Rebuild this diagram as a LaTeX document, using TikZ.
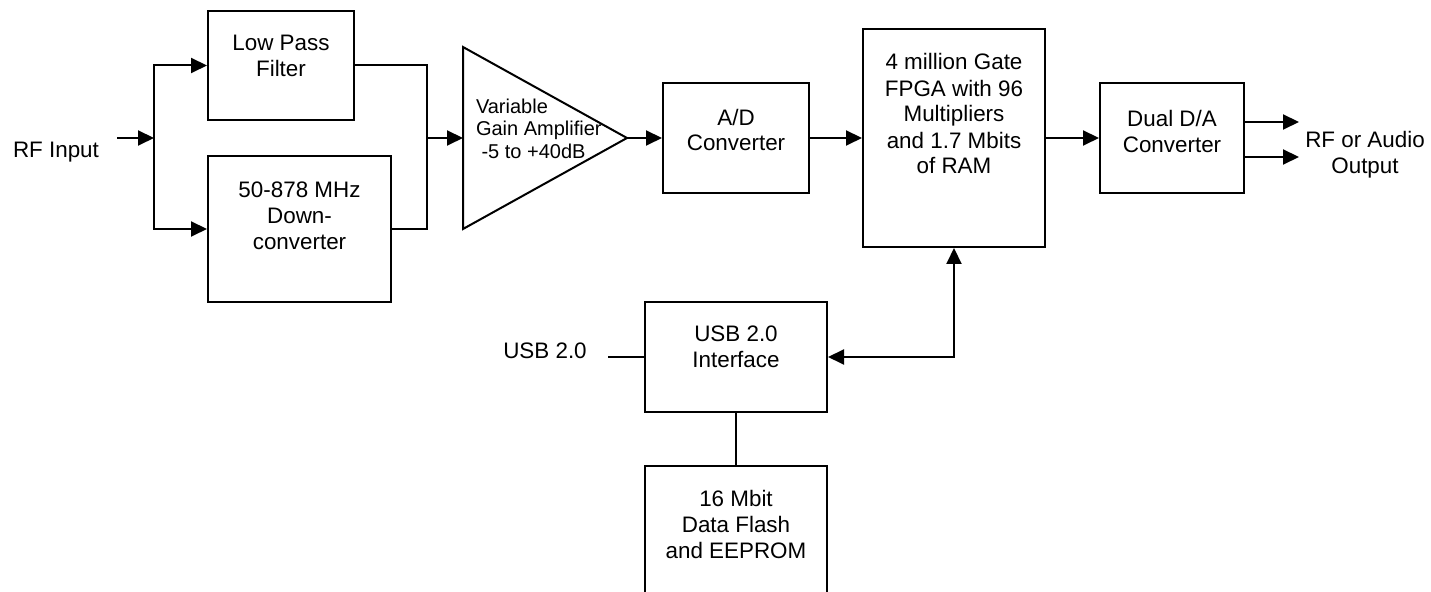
\documentclass[tikz,border=0pt]{standalone}
\usepackage{fontspec}
\setmainfont{Liberation Sans}
\usetikzlibrary{arrows.meta}

\begin{document}
\begin{tikzpicture}[x=0.5pt,y=-0.5pt,line width=1pt,
    blk/.style={shape=rectangle,draw,inner sep=0pt},
    txt/.style={align=center,inner sep=0pt,font=\fontsize{11.2}{13}\selectfont},
    arr/.style={-{Triangle[length=8pt,width=7.5pt]}},
    biarr/.style={{Triangle[length=8pt,width=7.5pt]}-{Triangle[length=8pt,width=7.5pt]}}]
    \useasboundingbox (0,0) rectangle (1431,592);
    \clip (0,0) rectangle (1431,592);
    \node[blk,minimum width=73pt,minimum height=54.5pt] (lpf) at (281,65.5) {};
    \node[blk,minimum width=91.5pt,minimum height=73pt] (dc) at (299.5,229) {};
    \node[blk,minimum width=73pt,minimum height=55pt] (ad) at (736,138) {};
    \node[blk,minimum width=91pt,minimum height=109pt] (fpga) at (954,138) {};
    \node[blk,minimum width=72pt,minimum height=55pt] (dac) at (1172,138) {};
    \node[blk,minimum width=91pt,minimum height=55pt] (usb) at (736,357) {};
    \node[blk,minimum width=91pt,minimum height=67pt] (flash) at (736,533) {};
    \coordinate (ampin) at (463,138);
    \coordinate (ampout) at (627,138);
    \draw (463,47) -- (ampout) -- (463,229) -- cycle;
    \node[txt] (lpftxt) at (281,56) {Low Pass\\Filter};
    \node[txt] (dctxt) at (299.5,216) {50-878 MHz\\Down-\\converter};
    \node[txt,align=left,anchor=west,font=\fontsize{10}{11.25}\selectfont] (amptxt) at (475,128.5) {Variable\\Gain Amplifier\\\ -5 to +40dB};
    \node[txt] (adtxt) at (736,130) {A/D\\Converter};
    \node[txt] (fpgatxt) at (954,114) {4 million Gate\\FPGA with 96\\Multipliers\\and 1.7 Mbits\\of RAM};
    \node[txt] (dactxt) at (1172,131.5) {Dual D/A\\Converter};
    \node[txt] (usbtxt) at (736,347) {USB 2.0\\Interface};
    \node[txt] (flashtxt) at (736,524) {16 Mbit\\Data Flash\\and EEPROM};
    \node[txt] (rfin) at (56,152) {RF Input};
    \node[txt] (usblbl) at (545,351) {USB 2.0};
    \node[txt] (outlbl) at (1365,155) {RF or Audio\\Output};
    \coordinate (rfstart) at (117,138);
    \coordinate (split) at (154,138);
    \coordinate (merge) at (427,138);
    \coordinate (usbend) at (608,357);
    \coordinate (outa) at (1299,122);
    \coordinate (outb) at (1299,157);
    \draw[arr] (rfstart) -- (split);
    \draw[arr] (split) |- (lpf.west);
    \draw[arr] (split) |- (dc.west);
    \draw (lpf.east) -| (merge);
    \draw (dc.east) -| (merge);
    \draw[arr] (merge) -- (ampin);
    \draw[arr] (ampout) -- (ad.west);
    \draw[arr] (ad.east) -- (fpga.west);
    \draw[arr] (fpga.east) -- (dac.west);
    \draw[arr] (dac.east |- outa) -- (outa);
    \draw[arr] (dac.east |- outb) -- (outb);
    \draw[biarr] (fpga.south) |- (usb.east);
    \draw (usbend) -- (usb.west);
    \draw (usb.south) -- (flash.north);
\end{tikzpicture}
\end{document}
